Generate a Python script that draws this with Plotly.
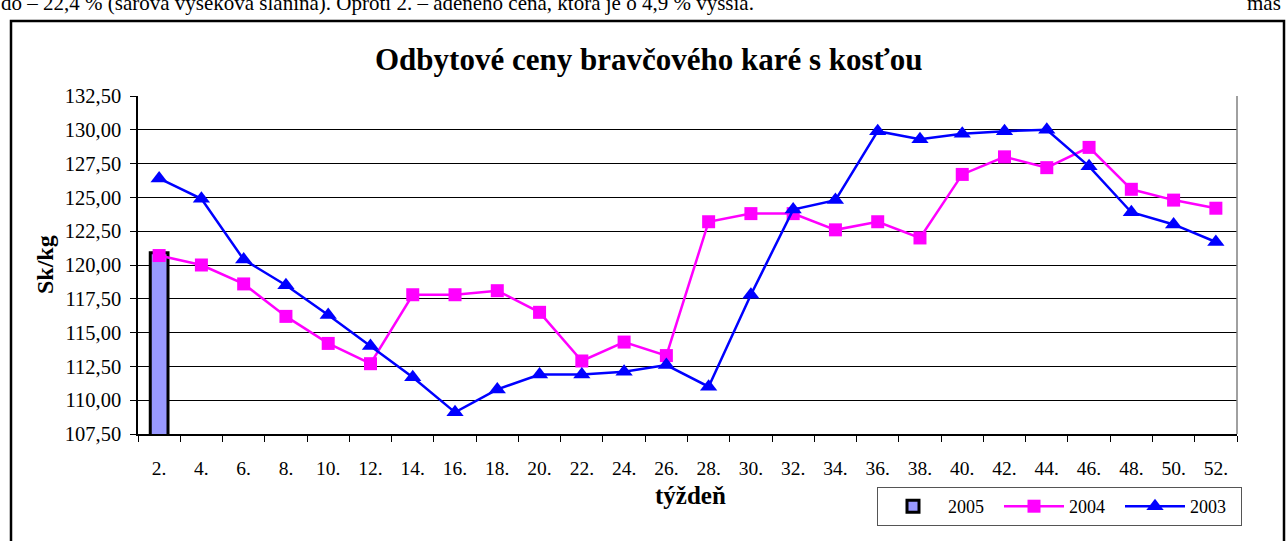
import plotly.graph_objects as go

weeks = ["2.", "4.", "6.", "8.", "10.", "12.", "14.", "16.", "18.", "20.", "22.", "24.", "26.",
         "28.", "30.", "32.", "34.", "36.", "38.", "40.", "42.", "44.", "46.", "48.", "50.", "52."]

vals_2005 = [120.9]
weeks_2005 = ["2."]

vals_2004 = [120.7, 120.0, 118.6, 116.2, 114.2, 112.7, 117.8, 117.8, 118.1, 116.5, 112.9, 114.3, 113.3,
             123.2, 123.8, 123.8, 122.6, 123.2, 122.0, 126.7, 128.0, 127.2, 128.7, 125.6, 124.8, 124.2]

vals_2003 = [126.4, 124.9, 120.4, 118.5, 116.3, 114.0, 111.7, 109.1, 110.8, 111.9, 111.9, 112.1, 112.6,
             111.0, 117.8, 124.1, 124.8, 129.9, 129.3, 129.7, 129.9, 130.0, 127.3, 123.9, 123.0, 121.7]

y_ticks = [107.5, 110.0, 112.5, 115.0, 117.5, 120.0, 122.5, 125.0, 127.5, 130.0, 132.5]

FONT = "Liberation Serif, Times New Roman, serif"

W, H = 1287, 541
L, R, T, B = 138, 1237, 96, 434


def px(x):
    return (x - L) / (R - L)


def py(y):
    return (B - y) / (B - T)


fig = go.Figure()
fig.add_trace(go.Bar(x=weeks_2005, y=vals_2005, name="2005", width=0.42,
                     marker=dict(color="#9999FF", line=dict(color="black", width=3))))
fig.add_trace(go.Scatter(x=weeks, y=vals_2004, name="2004", mode="lines+markers",
                         line=dict(color="#FF00FF", width=2.5),
                         marker=dict(symbol="square", size=13, color="#FF00FF")))
fig.add_trace(go.Scatter(x=weeks, y=vals_2003, name="2003", mode="lines+markers",
                         line=dict(color="#0000FF", width=2.5),
                         marker=dict(symbol="triangle-up", size=15, color="#0000FF")))

fig.update_layout(
    width=W, height=H,
    margin=dict(l=L, r=W - R, t=T, b=H - B, pad=0),
    paper_bgcolor="white", plot_bgcolor="white",
    separators=", ",
    font=dict(family=FONT, size=18, color="black"),
    showlegend=True,
    legend=dict(orientation="h", x=px(877), xanchor="left", y=py(487), yanchor="top",
                bordercolor="#555555", borderwidth=1, font=dict(size=18),
                itemwidth=60, entrywidth=46, entrywidthmode="pixels",
                tracegroupgap=0, bgcolor="white"),
    bargap=0.58,
)

fig.update_xaxes(type="category", categoryorder="array", categoryarray=weeks,
                 range=[-0.5, len(weeks) - 0.5],
                 showgrid=False, showline=True, linecolor="black", linewidth=1.5,
                 ticks="outside", tickson="boundaries", ticklen=6, tickcolor="black",
                 tickfont=dict(size=19.5), ticklabelstandoff=16, zeroline=False)
fig.update_yaxes(range=[107.5, 132.5], tickvals=y_ticks, tickformat=".2f",
                 showgrid=True, gridcolor="black", gridwidth=1,
                 showline=True, linecolor="black", linewidth=1.5,
                 ticks="outside", ticklen=6, tickcolor="black",
                 tickfont=dict(size=20.5), ticklabelstandoff=5, zeroline=False)

# right border of plot area
fig.add_shape(type="line", xref="paper", yref="paper", x0=1, x1=1, y0=0, y1=1,
              line=dict(color="#808080", width=1.5))
# outer chart box
fig.add_shape(type="rect", xref="paper", yref="paper",
              x0=px(11), x1=px(1284), y0=py(21), y1=py(560),
              line=dict(color="black", width=2.5), fillcolor="rgba(0,0,0,0)", layer="above")

annots = [
    dict(text="<b>Odbytové ceny bravčového karé s kosťou</b>", x=px(648), y=py(59),
         font=dict(size=31)),
    dict(text="<b>Sk/kg</b>", x=px(45), y=py(265), textangle=-90, font=dict(size=24)),
    dict(text="<b>týždeň</b>", x=px(690), y=py(495), font=dict(size=25)),
    dict(text="do – 22,4 % (sarová výseková slanina). Oproti 2. – adeného cena, ktorá je o 4,9 % vyššia.",
         x=px(-1), y=py(3), xanchor="left", font=dict(size=21)),
    dict(text="mäs", x=px(1283), y=py(3), xanchor="right", font=dict(size=21)),
]
for a in annots:
    a.setdefault("xanchor", "center")
    fig.add_annotation(xref="paper", yref="paper", yanchor="middle", showarrow=False, **a)

fig.write_html("out.html", config={"displayModeBar": False},
               post_script="document.body.style.margin='0';document.body.style.overflow='hidden';")
